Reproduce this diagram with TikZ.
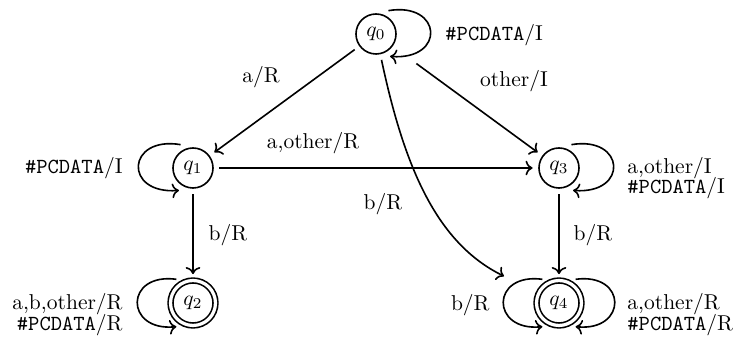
\documentclass[tikz,border=0pt]{standalone}
\usetikzlibrary{arrows.meta}
\begin{document}
\begin{tikzpicture}[x=0.465pt,y=-0.465pt,
  st/.style={circle,draw,line width=0.75pt,minimum size=18.6pt,inner sep=0pt,outer sep=3pt},
  acc/.style={st,double,double distance=1.5pt,minimum size=20.9pt},
  tr/.style={->,line width=0.75pt},
  lbl/.style={inner sep=0pt}]
\useasboundingbox (0,0) rectangle (736,342);
% states
\node[st]  (q0) at (376,34)  {$q_0$};
\node[st]  (q1) at (193,168) {$q_1$};
\node[st]  (q3) at (559,168) {$q_3$};
\node[acc] (q2) at (193,303) {$q_2$};
\node[acc] (q4) at (559,303) {$q_4$};
% transitions
\draw[tr] (q0) -- (q1);
\draw[tr,shorten <=11pt] (q0) -- (q3);
\draw[tr] (q1) -- (q3);
\draw[tr] (q1) -- (q2);
\draw[tr] (q3) -- (q4);
\draw[tr,shorten >=15pt] (q0) to[out=-78,in=154] (q4);
% loops
\draw[tr] (q0.62) .. controls +(54,-9) and +(56,4) .. (q0.-58);
\draw[tr] (q1.118) .. controls +(-54,-9) and +(-56,4) .. (q1.-122);
\draw[tr] (q3.62) .. controls +(54,-9) and +(56,4) .. (q3.-58);
\draw[tr] (q2.125) .. controls +(-52,-7) and +(-52,5) .. (q2.-125);
\draw[tr] (q4.125) .. controls +(-52,-7) and +(-52,5) .. (q4.-125);
\draw[tr] (q4.55) .. controls +(52,-7) and +(52,5) .. (q4.-55);
% labels
\node[lbl,anchor=base west] (l0) at (445,41) {\texttt{\#PCDATA}/I};
\node[lbl,anchor=base] (l1) at (261,83) {a/R};
\node[lbl,anchor=base] (l2) at (514,87) {other/I};
\node[lbl,anchor=base] (l3) at (313,149) {a,other/R};
\node[lbl,anchor=base east] (l4) at (123,174) {\texttt{\#PCDATA}/I};
\node[lbl,anchor=base west] (l5) at (627,174) {a,other/I};
\node[lbl,anchor=base west] (l6) at (627,194) {\texttt{\#PCDATA}/I};
\node[lbl,anchor=base] (l7) at (228,241) {b/R};
\node[lbl,anchor=base] (l8) at (593,241) {b/R};
\node[lbl,anchor=base] (l9) at (383,210) {b/R};
\node[lbl,anchor=base east] (l10) at (490,311) {b/R};
\node[lbl,anchor=base east] (l11) at (123,310) {a,b,other/R};
\node[lbl,anchor=base east] (l12) at (123,331) {\texttt{\#PCDATA}/R};
\node[lbl,anchor=base west] (l13) at (627,310) {a,other/R};
\node[lbl,anchor=base west] (l14) at (627,331) {\texttt{\#PCDATA}/R};
\end{tikzpicture}
\end{document}
